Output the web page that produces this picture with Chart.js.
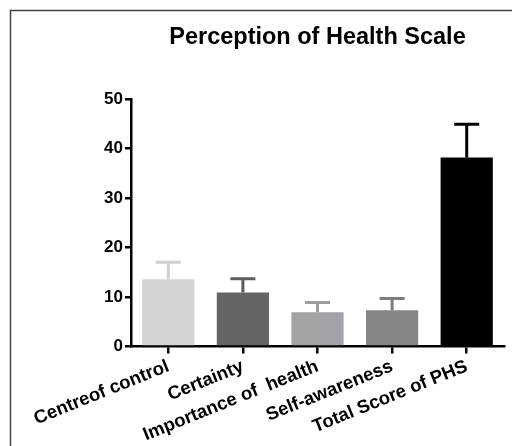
<!DOCTYPE html>
<html>
<head>
<meta charset="utf-8">
<script src="https://cdn.jsdelivr.net/npm/chart.js@4.4.1/dist/chart.umd.min.js"></script>
<style>
html,body{margin:0;padding:0;background:#fff;}
#wrap{width:512px;height:446px;position:relative;}
</style>
</head>
<body>
<div id="wrap"><canvas id="c" width="512" height="446"></canvas></div>
<script>
const chartTitle = "Perception of Health Scale";
const categories = ["Centreof control", "Certainty", "Importance of  health", "Self-awareness", "Total Score of PHS"];
const means = [13.6, 10.9, 6.9, 7.3, 38.2];
const errorTops = [17.0, 13.7, 8.9, 9.7, 44.9];
const yTicks = [0, 10, 20, 30, 40, 50];
const barColors = ["#d4d4d4", "#646464", "#a2a2a7", "#858585", "#000000"];
const errColors = ["#d0d0d0", "#5c5c5c", "#9c9c9c", "#7c7c7c", "#000000"];

const FONT = "'Liberation Sans', Arial, sans-serif";

const framePlugin = {
  id: 'frame',
  beforeDraw(chart) {
    const ctx = chart.ctx;
    ctx.save();
    ctx.fillStyle = '#fff';
    ctx.fillRect(0, 0, chart.width, chart.height);
    ctx.strokeStyle = '#444';
    ctx.lineWidth = 1.5;
    ctx.beginPath();
    ctx.moveTo(10.5, chart.height);
    ctx.lineTo(10.5, 10.5);
    ctx.lineTo(chart.width, 10.5);
    ctx.stroke();
    ctx.restore();
  },
  afterDraw(chart) {
    const ctx = chart.ctx;
    const ca = chart.chartArea;
    ctx.save();
    ctx.font = "bold 23.5px " + FONT;
    ctx.fillStyle = '#000';
    ctx.textAlign = 'center';
    ctx.textBaseline = 'alphabetic';
    ctx.fillText(chartTitle, (ca.left + ca.right) / 2, 44);
    ctx.restore();
  }
};

const errorPlugin = {
  id: 'errbars',
  afterDatasetsDraw(chart) {
    const ctx = chart.ctx;
    const meta = chart.getDatasetMeta(0);
    const y = chart.scales.y;
    ctx.save();
    meta.data.forEach((bar, i) => {
      const yTop = y.getPixelForValue(errorTops[i]);
      const yBar = y.getPixelForValue(means[i]);
      ctx.strokeStyle = errColors[i];
      ctx.lineWidth = 3;
      ctx.beginPath();
      ctx.moveTo(bar.x, yBar);
      ctx.lineTo(bar.x, yTop);
      ctx.moveTo(bar.x - 12.5, yTop);
      ctx.lineTo(bar.x + 12.5, yTop);
      ctx.stroke();
    });
    ctx.restore();
  }
};

new Chart(document.getElementById('c'), {
  type: 'bar',
  data: {
    labels: categories,
    datasets: [{
      data: means,
      backgroundColor: barColors,
      borderWidth: 0,
      barPercentage: 0.7,
      categoryPercentage: 1.0
    }]
  },
  options: {
    responsive: false,
    animation: false,
    devicePixelRatio: 1,
    layout: { padding: { top: 99, right: 8, bottom: 0, left: 0 } },
    plugins: {
      legend: { display: false },
      title: { display: false },
      tooltip: { enabled: false }
    },
    scales: {
      x: {
        afterFit(s) { s.height = 99.5; },
        grid: { display: true, offset: false, drawOnChartArea: false, drawTicks: true, tickLength: 7, color: '#000', lineWidth: 2.5 },
        border: { display: true, color: '#000', width: 2.5 },
        ticks: {
          color: '#000',
          font: { family: FONT, size: 18.5, weight: 'bold' },
          minRotation: 22,
          maxRotation: 22,
          padding: 2,
          autoSkip: false
        }
      },
      y: {
        min: 0,
        max: 50,
        afterFit(s) { s.width = 131; },
        afterBuildTicks(s) { s.ticks = yTicks.map(v => ({ value: v })); },
        grid: { display: true, drawOnChartArea: false, drawTicks: true, tickLength: 6, color: '#000', lineWidth: 2.5 },
        border: { display: true, color: '#000', width: 2.5 },
        ticks: {
          color: '#000',
          font: { family: FONT, size: 17, weight: 'bold' },
          padding: 2
        }
      }
    }
  },
  plugins: [framePlugin, errorPlugin]
});
</script>
</body>
</html>
